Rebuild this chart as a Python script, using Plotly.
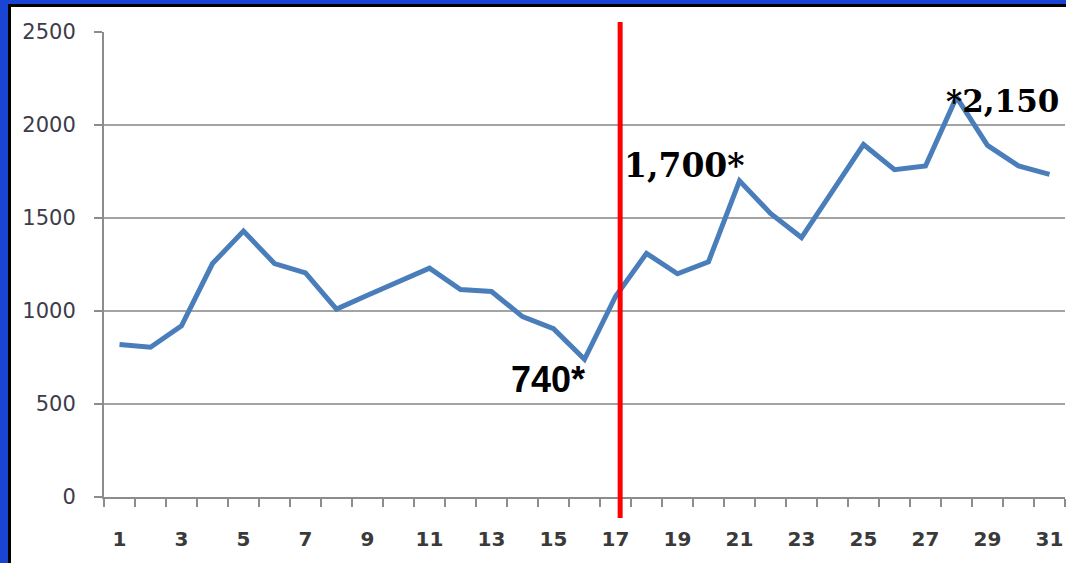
import plotly.graph_objects as go

# Daily counts for days 1-31
days = list(range(1, 32))
counts = [820, 805, 920, 1255, 1430, 1255, 1205, 1010, 1085, 1160,
          1230, 1115, 1105, 970, 905, 740, 1078, 1310, 1200, 1265,
          1700, 1525, 1395, 1645, 1895, 1760, 1780, 2150, 1890, 1780,
          1735]

x_tick_vals = list(range(1, 32, 2))
x_tick_text = [f"<b>{v}</b>" for v in x_tick_vals]
y_tick_vals = [0, 500, 1000, 1500, 2000, 2500]

# Day where the red marker line is drawn
cutover_day = 17.15

# Highlighted points: (day, label)
callouts = [(16, "740*"), (21, "1,700*"), (28, "*2,150")]

W, H = 1066, 563
L, R, T, B = 104, 1, 32, 66
pw, ph = W - L - R, H - T - B

def px_to_paper_x(px):
    return (px - L) / pw

def px_to_paper_y(py):
    return (H - B - py) / ph

GRID = "#a3a3a3"
AXIS = "#8c8c8c"

fig = go.Figure()

fig.add_trace(go.Scatter(
    x=days, y=counts, mode="lines",
    line=dict(color="#4a7ebb", width=5),
    hoverinfo="skip", showlegend=False,
))

# white slide panel with black edge over the blue background
fig.add_shape(type="rect", xref="paper", yref="paper", layer="below",
              x0=px_to_paper_x(9.5), x1=px_to_paper_x(1080),
              y0=px_to_paper_y(580), y1=px_to_paper_y(5.5),
              fillcolor="white", line=dict(color="black", width=3))

# red vertical marker
fig.add_shape(type="line", xref="x", yref="paper",
              x0=cutover_day, x1=cutover_day,
              y0=px_to_paper_y(518), y1=px_to_paper_y(22),
              line=dict(color="#ff0000", width=5))

val = dict(zip(days, counts))
d, txt = callouts[0]
fig.add_annotation(x=d, y=val[d], text=f"<b>{txt}</b>", showarrow=False,
                   xanchor="right", yanchor="middle", xshift=2, yshift=-20,
                   font=dict(family="Liberation Sans", size=36, color="black"))
d, txt = callouts[1]
fig.add_annotation(x=d, y=val[d], text=f"<b>{txt}</b>", showarrow=False,
                   xanchor="right", yanchor="middle", xshift=7, yshift=15,
                   font=dict(family="DejaVu Serif", size=33, color="black"))
d, txt = callouts[2]
fig.add_annotation(x=d, y=val[d], text=f"<b>{txt}</b>", showarrow=False,
                   xanchor="left", yanchor="middle", xshift=-13, yshift=-4,
                   font=dict(family="DejaVu Serif", size=31, color="black"))

fig.update_layout(
    width=W, height=H,
    margin=dict(l=L, r=R, t=T, b=B, pad=0),
    paper_bgcolor="#1a44d4",
    plot_bgcolor="white",
    showlegend=False,
    xaxis=dict(
        range=[0.5, 31.5], tickmode="array",
        tickvals=x_tick_vals, ticktext=x_tick_text,
        ticks="outside", ticklen=8, tickcolor="rgba(0,0,0,0)",
        ticklabelstandoff=15,
        showline=True, linecolor=AXIS, linewidth=2,
        showgrid=False, zeroline=False,
        tickfont=dict(family="DejaVu Sans", size=20, color="#3a3a3a"),
        minor=dict(tickmode="linear", tick0=0.5, dtick=1, ticks="outside",
                   ticklen=8, tickwidth=2, tickcolor=AXIS, showgrid=False),
    ),
    yaxis=dict(
        range=[0, 2500], tickmode="array", tickvals=y_tick_vals,
        ticks="outside", ticklen=8, tickwidth=2, tickcolor=AXIS,
        ticklabelstandoff=14,
        showline=True, linecolor=AXIS, linewidth=2,
        showgrid=True, gridcolor=GRID, gridwidth=2, zeroline=False,
        tickfont=dict(family="DejaVu Sans", size=21, color="#3c3c4a"),
    ),
)

fig.write_html("out.html")
